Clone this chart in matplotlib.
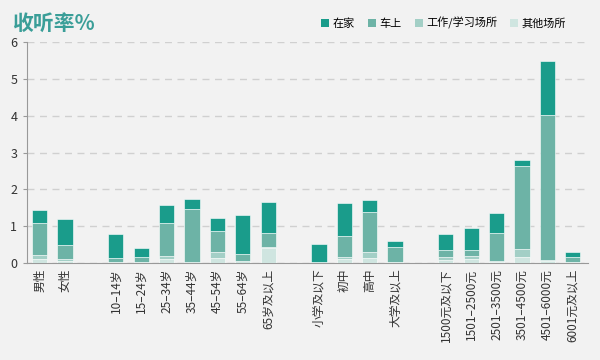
import matplotlib

matplotlib.use("Agg")
import matplotlib.pyplot as plt
import numpy as np
from matplotlib.patches import Patch

plt.rcParams["font.family"] = ["Noto Sans CJK SC", "DejaVu Sans"]

# ── data (listening rate %) ──
categories = [
    "男性", "女性", None,
    "10–14岁", "15–24岁", "25–34岁", "35–44岁", "45–54岁", "55–64岁", "65岁及以上", None,
    "小学及以下", "初中", "高中", "大学及以上", None,
    "1500元及以下", "1501–2500元", "2501–3500元", "3501–4500元", "4501–6000元", "6001元及以上",
]
other = [0.10, 0.05, 0, 0.02, 0.03, 0.10, 0.01, 0.15, 0.05, 0.40, 0,
         0.01, 0.10, 0.14, 0.02, 0, 0.08, 0.10, 0.03, 0.18, 0.05, 0.03]
work = [0.13, 0.06, 0, 0.02, 0.00, 0.10, 0.01, 0.14, 0.00, 0.05, 0,
        0.01, 0.08, 0.15, 0.01, 0, 0.10, 0.10, 0.02, 0.20, 0.04, 0.01]
car = [0.86, 0.39, 0, 0.10, 0.15, 0.89, 1.46, 0.59, 0.20, 0.36, 0,
       0.01, 0.57, 1.09, 0.40, 0, 0.17, 0.16, 0.77, 2.26, 3.93, 0.12]
home = [0.36, 0.70, 0, 0.65, 0.23, 0.48, 0.27, 0.35, 1.07, 0.86, 0,
        0.50, 0.87, 0.33, 0.16, 0, 0.44, 0.60, 0.54, 0.16, 1.46, 0.15]

series = ["在家", "车上", "工作/学习场所", "其他场所"]
HOME_C = "#1a9c8b"
CAR_C = "#6db3a6"
WORK_C = "#a3cfc6"
OTHER_C = "#cfe5e0"
BG = "#f2f2f2"
INK = "#333333"
TEAL = "#3a9e98"

x = np.arange(len(categories))
mask = np.array([c is not None for c in categories])
xs = x[mask]

fig = plt.figure(figsize=(6, 3.6), dpi=100, facecolor=BG)
ax = fig.add_axes([0.045, 0.269, 0.935, 0.614], facecolor=BG)

bottom = np.zeros(len(categories))
for vals, col in [(other, OTHER_C), (work, WORK_C), (car, CAR_C), (home, HOME_C)]:
    v = np.array(vals)
    ax.bar(xs, v[mask], bottom=bottom[mask], width=0.6, color=col,
           edgecolor="white", linewidth=0.4, zorder=3)
    bottom += v

ax.set_xlim(-0.5, 21.6)
ax.set_ylim(0, 6)
ax.set_yticks(range(7))
ax.yaxis.grid(True, color="#d0d0d0", linestyle=(0, (5, 4)), linewidth=1)
ax.set_axisbelow(True)
ax.set_xticks(xs)
ax.set_xticklabels([c for c in categories if c is not None], rotation=90, fontsize=8.5, color=INK)
ax.tick_params(axis="x", length=0, pad=4)
ax.tick_params(axis="y", labelsize=9, colors=INK, length=3, color="#999999", pad=4)
for s in ("top", "right"):
    ax.spines[s].set_visible(False)
for s in ("left", "bottom"):
    ax.spines[s].set_color("#999999")

fig.text(0.02, 0.935, "收听率%", fontsize=15, fontweight="bold", color=TEAL, va="center")

handles = [Patch(facecolor=c, edgecolor="none") for c in (HOME_C, CAR_C, WORK_C, OTHER_C)]
fig.legend(handles, series, loc="center right", bbox_to_anchor=(0.96, 0.935), ncol=4,
           frameon=False, fontsize=8, handlelength=0.7, handleheight=0.7,
           handletextpad=0.3, columnspacing=1.2)

fig.savefig("out.png", dpi=100, facecolor=BG)
